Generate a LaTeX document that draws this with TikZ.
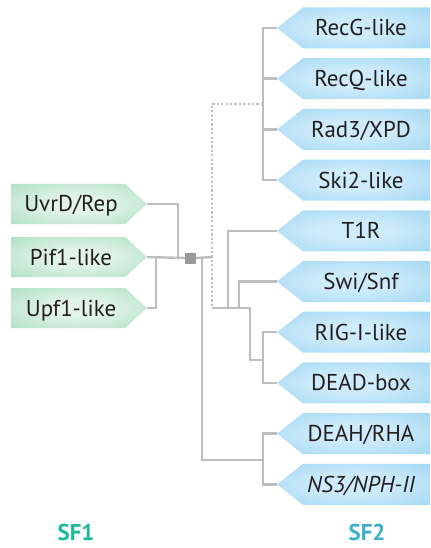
\documentclass[tikz,border=0pt]{standalone}
\usepackage{fontspec}
\setmainfont{PT Sans}
\definecolor{bluein}{HTML}{CDEBFA}
\definecolor{blueout}{HTML}{8BCDEF}
\definecolor{greenin}{HTML}{E2F4E9}
\definecolor{greenout}{HTML}{9CD7B4}
\definecolor{linegray}{HTML}{BDBDC2}
\definecolor{hubgray}{HTML}{999999}
\definecolor{txt}{HTML}{231F20}
\definecolor{sfone}{HTML}{1DB89B}
\definecolor{sftwo}{HTML}{3BAFCB}
\pgfdeclareradialshading{bluesh}{\pgfpoint{0bp}{0bp}}{color(0bp)=(bluein); color(12bp)=(bluein); color(50bp)=(blueout)}
\pgfdeclareradialshading{greensh}{\pgfpoint{0bp}{0bp}}{color(0bp)=(greenin); color(10bp)=(greenin); color(48bp)=(greenout)}
\newcommand\btag[3]{%
  \shade[shading=bluesh] (277,#2) -- (303,#2-20.5) -- (430,#2-20.5) -- (430,#2+20.5) -- (303,#2+20.5) -- cycle;
  \node[lbl] (#1) at (361,#2+8) {#3};
  \coordinate (#1-tip) at (277,#2);}
\newcommand\gtag[3]{%
  \shade[shading=greensh] (11,#2-20) -- (125,#2-20) -- (147,#2) -- (125,#2+20) -- (11,#2+20) -- cycle;
  \node[lbl] (#1) at (71,#2+8) {#3};
  \coordinate (#1-tip) at (147,#2);}
\begin{document}
\begin{tikzpicture}[x=1bp,y=-1bp,
  lbl/.style={font=\fontsize{23}{26}\selectfont, text=txt, inner sep=0pt, anchor=base},
  tree/.style={draw=linegray, line width=2.4bp},
  dots/.style={draw=linegray, line width=2.4bp, dash pattern=on 2.2bp off 2.2bp},
  sflbl/.style={font=\fontsize{23}{26}\selectfont\bfseries, inner sep=0pt, anchor=base}]
\useasboundingbox (0,0) rectangle (430,548);
% SF2 tags
\btag{recg}{28}{RecG-like}
\btag{recq}{78.7}{RecQ-like}
\btag{rad3}{129.4}{Rad3/XPD}
\btag{ski2}{180.1}{Ski2-like}
\btag{t1r}{230.8}{T1R}
\btag{swi}{281.5}{Swi/Snf}
\btag{rig}{332.2}{RIG-I-like}
\btag{dead}{382.9}{DEAD-box}
\btag{deah}{433.6}{DEAH/RHA}
\btag{ns3}{484.3}{\itshape NS3/NPH-II}
% SF1 tags
\gtag{uvrd}{204}{UvrD/Rep}
\gtag{pif1}{257}{Pif1-like}
\gtag{upf1}{308}{Upf1-like}
% hub
\node[fill=hubgray, minimum size=11bp, inner sep=0pt] (hub) at (190.5,258) {};
% junction coordinates
\coordinate (j1) at (178,257);
\coordinate (j2) at (156,257);
\coordinate (k0) at (202,257);
\coordinate (k1) at (212,257);
\coordinate (k4) at (212,308);
\coordinate (u1) at (263,104);
\coordinate (k2) at (263,460);
\coordinate (m1) at (228,308);
\coordinate (m2) at (239,308);
\coordinate (m3) at (263,360);
% SF1 tree
\draw[tree] (uvrd-tip) -| (j1);
\draw[tree] (upf1-tip) -| (j2);
\draw[tree] (pif1-tip) -- (hub.west);
\draw[tree] (hub.east) -- (k1);
% dotted branch
\draw[dots] (u1) -| (k1) -- (k4);
% upper group
\draw[tree] (recg-tip) -- ++(-14,0) |- (ski2-tip);
\draw[tree] (recq-tip) -- ++(-14,0);
\draw[tree] (rad3-tip) -- ++(-14,0);
% middle group
\draw[tree] (k4) -- (250,308) |- (m3);
\draw[tree] (t1r-tip) -| (m1);
\draw[tree] (swi-tip) -| (m2);
\draw[tree] (rig-tip) -- ++(-14,0) |- (dead-tip);
% lower group
\draw[tree] (k0) |- (k2);
\draw[tree] (deah-tip) -- ++(-14,0) |- (ns3-tip);
% labels
\node[sflbl, text=sfone] (sf1) at (76,540) {SF1};
\node[sflbl, text=sftwo] (sf2) at (367,540) {SF2};
\end{tikzpicture}
\end{document}
